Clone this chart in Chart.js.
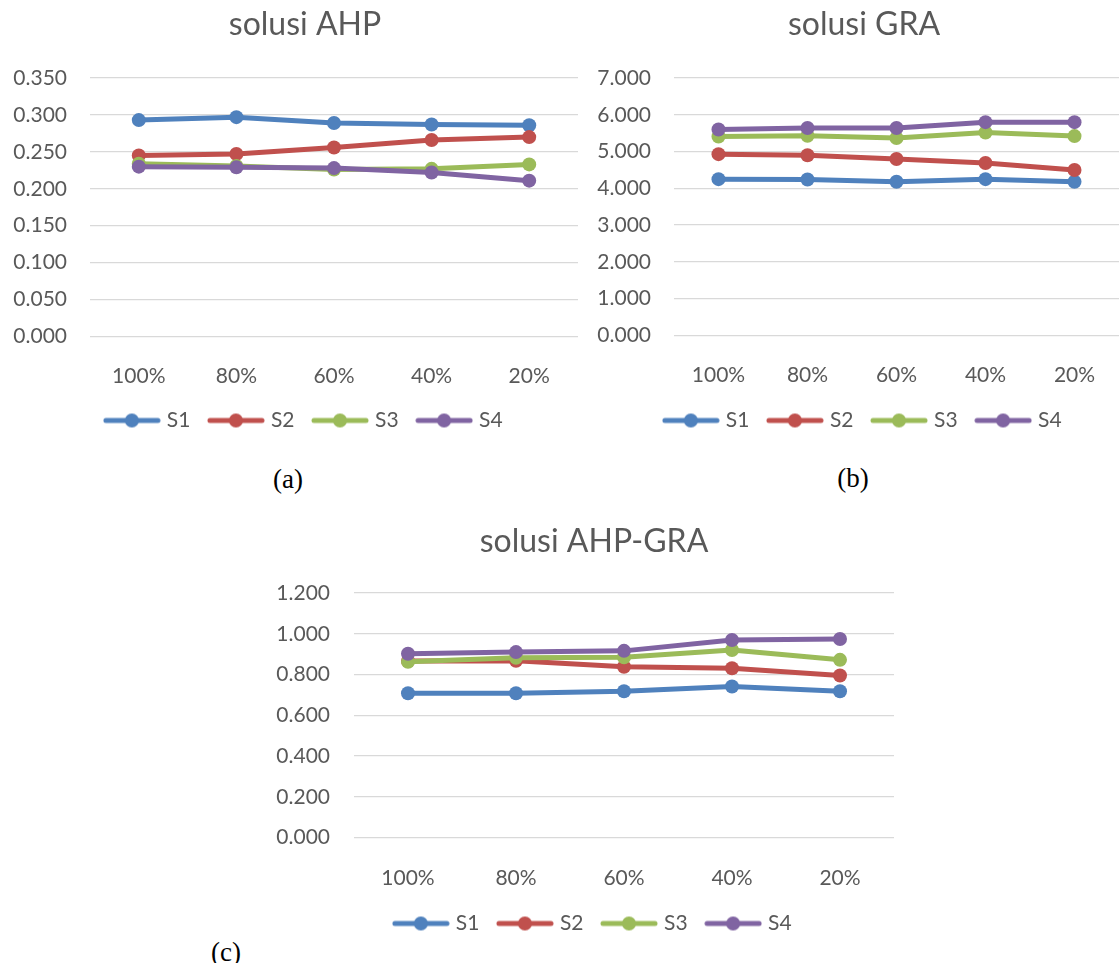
<!DOCTYPE html>
<html>
<head>
<meta charset="utf-8">
<script src="https://cdn.jsdelivr.net/npm/chart.js@4.4.1/dist/chart.umd.min.js"></script>
<style>
  html, body { margin: 0; padding: 0; background: #fff; overflow: hidden; }
  body { width: 1119px; height: 963px; position: relative; }
  canvas { position: absolute; }
  .cap { position: absolute; font-family: 'Liberation Serif', 'Times New Roman', serif; font-size: 27px; color: #000; transform: translate(-50%, -50%); }
</style>
</head>
<body>
<canvas id="chartAhp" width="610" height="441" style="left:0px;top:0px"></canvas>
<canvas id="chartGra" width="548" height="441" style="left:590px;top:0px"></canvas>
<canvas id="chartAhpGra" width="668" height="427" style="left:260px;top:517px"></canvas>
<div class="cap" style="left:288px;top:479px">(a)</div>
<div class="cap" style="left:853px;top:478px">(b)</div>
<div class="cap" style="left:226px;top:952px">(c)</div>
<script>
// categories and values
const categories = ['100%', '80%', '60%', '40%', '20%'];
const seriesNames = ['S1', 'S2', 'S3', 'S4'];

const ahpS1 = [0.293, 0.297, 0.289, 0.287, 0.286];
const ahpS2 = [0.245, 0.247, 0.256, 0.266, 0.270];
const ahpS3 = [0.234, 0.231, 0.226, 0.227, 0.233];
const ahpS4 = [0.230, 0.229, 0.228, 0.222, 0.211];

const graS1 = [4.25, 4.24, 4.18, 4.25, 4.18];
const graS2 = [4.93, 4.90, 4.80, 4.69, 4.50];
const graS3 = [5.41, 5.43, 5.37, 5.52, 5.42];
const graS4 = [5.60, 5.64, 5.64, 5.80, 5.80];

const ahpGraS1 = [0.708, 0.708, 0.718, 0.741, 0.718];
const ahpGraS2 = [0.866, 0.867, 0.838, 0.831, 0.795];
const ahpGraS3 = [0.862, 0.882, 0.885, 0.920, 0.872];
const ahpGraS4 = [0.902, 0.910, 0.916, 0.969, 0.974];

const colors = ['#4F81BD', '#C0504D', '#9BBB59', '#8064A2'];
const textColor = '#595959';

Chart.defaults.font.family = 'Lato';
Chart.defaults.color = textColor;

// legend swatch: line with a dot in the middle, like Excel
function legendMark(color) {
    const c = document.createElement('canvas');
    c.width = 58;
    c.height = 18;
    const g = c.getContext('2d');
    g.strokeStyle = color;
    g.lineWidth = 5;
    g.lineCap = 'round';
    g.beginPath();
    g.moveTo(3, 9);
    g.lineTo(55, 9);
    g.stroke();
    g.fillStyle = color;
    g.beginPath();
    g.arc(29, 9, 7, 0, Math.PI * 2);
    g.fill();
    return c;
}
const marks = colors.map(legendMark);

function makeChart(id, title, values, yMax, yStep, lay) {
    return new Chart(document.getElementById(id), {
        type: 'line',
        data: {
            labels: categories,
            datasets: values.map((v, i) => ({
                label: seriesNames[i],
                data: v,
                borderColor: colors[i],
                backgroundColor: colors[i],
                pointBackgroundColor: colors[i],
                borderWidth: 5,
                pointRadius: 7,
                pointBorderWidth: 0,
                borderCapStyle: 'round',
                borderJoinStyle: 'round',
                order: 4 - i
            }))
        },
        options: {
            animation: false,
            responsive: false,
            plugins: {
                title: {
                    display: true,
                    text: title,
                    color: textColor,
                    font: { size: 32, weight: 'normal' },
                    padding: { top: 5.8, bottom: lay.titleBottom }
                },
                legend: {
                    position: 'bottom',
                    labels: {
                        usePointStyle: true,
                        pointStyleWidth: 49,
                        padding: 21,
                        color: textColor,
                        font: { size: 21 },
                        generateLabels: chart => chart.data.datasets.map((ds, i) => ({
                            text: ds.label,
                            pointStyle: marks[i],
                            fillStyle: ds.borderColor,
                            strokeStyle: ds.borderColor,
                            lineWidth: 0,
                            fontColor: textColor,
                            datasetIndex: i,
                            hidden: false
                        }))
                    }
                },
                tooltip: { enabled: false }
            },
            scales: {
                x: {
                    type: 'category',
                    offset: true,
                    grid: { display: false },
                    border: { display: false },
                    ticks: { color: textColor, font: { size: 21 }, padding: lay.xPad, maxRotation: 0 },
                    afterFit: s => { s.height = lay.xHeight; }
                },
                y: {
                    type: 'linear',
                    min: 0,
                    max: yMax,
                    grid: { color: '#D9D9D9', lineWidth: 1.3, drawTicks: false },
                    border: { display: false },
                    ticks: {
                        stepSize: yStep,
                        color: textColor,
                        font: { size: 21 },
                        padding: lay.yPad,
                        callback: v => v.toFixed(3)
                    },
                    afterFit: s => { s.width = lay.yWidth; }
                },
                yr: {
                    type: 'linear',
                    position: 'right',
                    grid: { display: false },
                    border: { display: false },
                    ticks: { display: false },
                    afterFit: s => { s.width = lay.rightWidth; }
                }
            }
        }
    });
}

var chart_ahp = makeChart('chartAhp', 'solusi AHP', [ahpS1, ahpS2, ahpS3, ahpS4], 0.35, 0.05,
    { titleBottom: 33.8, xPad: 19.4, xHeight: 52.5, yPad: 23, yWidth: 90, rightWidth: 32 });

var chart_gra = makeChart('chartGra', 'solusi GRA', [graS1, graS2, graS3, graS4], 7, 1,
    { titleBottom: 33.8, xPad: 19.4, xHeight: 53.5, yPad: 23, yWidth: 84, rightWidth: 19 });

var chart_ahpGra = makeChart('chartAhpGra', 'solusi AHP-GRA', [ahpGraS1, ahpGraS2, ahpGraS3, ahpGraS4], 1.2, 0.2,
    { titleBottom: 31.8, xPad: 20.4, xHeight: 54.5, yPad: 24, yWidth: 94, rightWidth: 34 });
</script>
</body>
</html>
